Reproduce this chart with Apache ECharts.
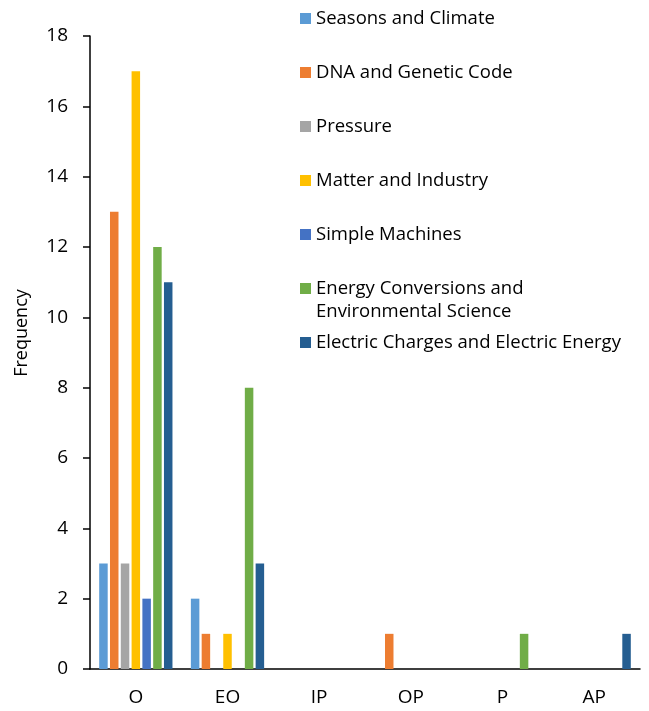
<!DOCTYPE html>
<html>
<head>
<meta charset="utf-8">
<script src="https://cdn.jsdelivr.net/npm/echarts@6/dist/echarts.min.js"></script>
<style>
  html, body { margin: 0; padding: 0; background: #fff; }
  #chart { width: 649px; height: 711px; }
</style>
</head>
<body>
<div id="chart"></div>
<script>
// Question categories on the x axis
const categories = ['O', 'EO', 'IP', 'OP', 'P', 'AP'];

// Frequency of each category per topic
const seasonsClimate = [3, 2, 0, 0, 0, 0];
const dnaGenetic = [13, 1, 0, 1, 0, 0];
const pressure = [3, 0, 0, 0, 0, 0];
const matterIndustry = [17, 1, 0, 0, 0, 0];
const simpleMachines = [2, 0, 0, 0, 0, 0];
const energyEnvironment = [12, 8, 0, 0, 1, 0];
const electricCharges = [11, 3, 0, 0, 0, 1];

const yTicks = { min: 0, max: 18, interval: 2 };

const FONT = '"Open Sans", Lato, sans-serif';

const seriesDefs = [
  { name: 'Seasons and Climate', data: seasonsClimate, color: '#5B9BD5' },
  { name: 'DNA and Genetic Code', data: dnaGenetic, color: '#ED7D31' },
  { name: 'Pressure', data: pressure, color: '#A5A5A5' },
  { name: 'Matter and Industry', data: matterIndustry, color: '#FFC000' },
  { name: 'Simple Machines', data: simpleMachines, color: '#4472C4' },
  { name: 'Energy Conversions and Environmental Science', data: energyEnvironment, color: '#70AD47' },
  { name: 'Electric Charges and Electric Energy', data: electricCharges, color: '#255E91' }
];

// One legend block per topic so each entry sits at its own row
const legendTops = [9, 63, 117, 171, 225, 279, 333];
const legends = seriesDefs.map((s, i) => ({
  data: [s.name],
  orient: 'vertical',
  left: 300,
  top: legendTops[i],
  itemWidth: 11,
  itemHeight: 11,
  icon: 'rect',
  selectedMode: false,
  padding: 0,
  textStyle: { fontFamily: FONT, fontSize: 18.5, color: '#000' },
  formatter: name => name === 'Energy Conversions and Environmental Science'
    ? 'Energy Conversions and' : name
}));

const chart = echarts.init(document.getElementById('chart'), null, { renderer: 'canvas' });
chart.setOption({
  animation: false,
  backgroundColor: '#fff',
  grid: { left: 90, right: 9, top: 36, bottom: 42, containLabel: false },
  legend: legends,
  graphic: [{
    type: 'text',
    left: 316,
    top: 302,
    style: { text: 'Environmental Science', fontFamily: FONT, fontSize: 18.5, fill: '#000' }
  }, {
    type: 'text',
    x: 22,
    y: 333,
    rotation: Math.PI / 2,
    style: {
      text: 'Frequency', fontFamily: FONT, fontSize: 18, fill: '#000',
      align: 'center', verticalAlign: 'middle'
    }
  }],
  xAxis: {
    type: 'category',
    data: categories,
    axisLine: { lineStyle: { color: '#000', width: 1.5 } },
    axisTick: { show: false },
    axisLabel: { color: '#000', fontFamily: FONT, fontSize: 19, margin: 19 }
  },
  yAxis: {
    type: 'value',
    min: yTicks.min,
    max: yTicks.max,
    interval: yTicks.interval,
    axisLine: { show: true, lineStyle: { color: '#000', width: 1.5 } },
    axisTick: { show: true, inside: false, length: 7, lineStyle: { color: '#000', width: 1.5 } },
    axisLabel: { color: '#000', fontFamily: FONT, fontSize: 19, margin: 22 },
    splitLine: { show: false }
  },
  series: seriesDefs.map(s => ({
    name: s.name,
    type: 'bar',
    data: s.data,
    barWidth: 8.5,
    barGap: '27%',
    itemStyle: { color: s.color }
  }))
});
</script>
</body>
</html>
